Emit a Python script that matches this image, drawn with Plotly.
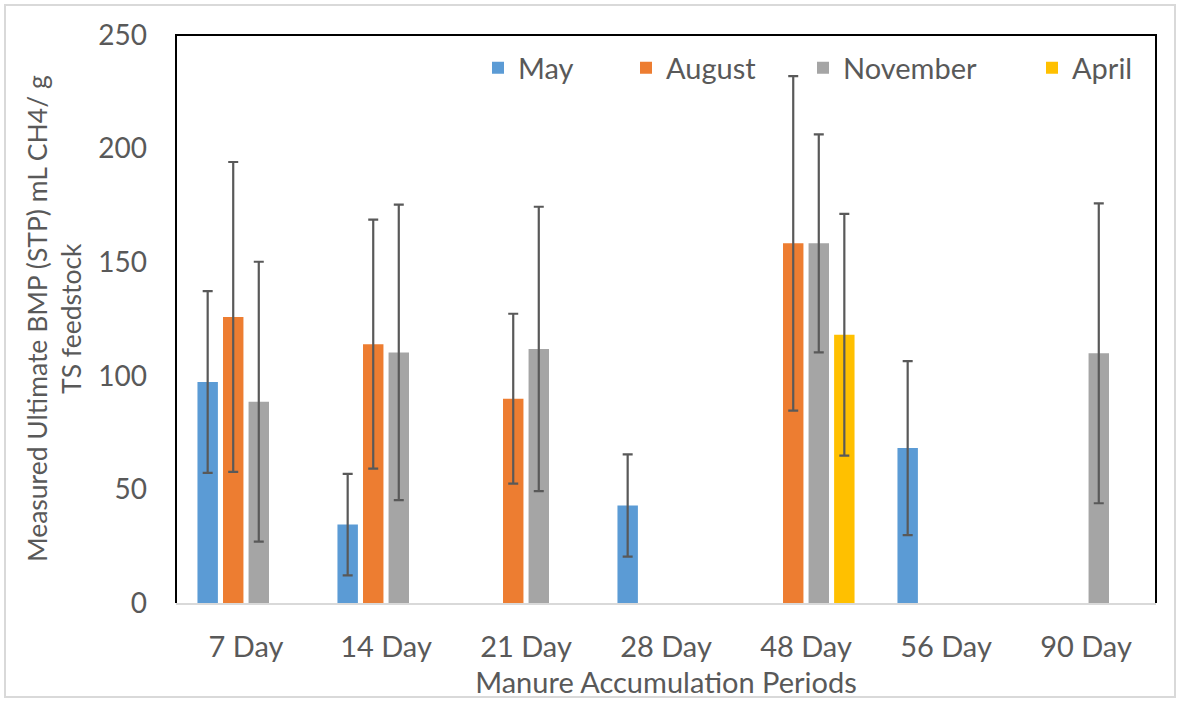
import plotly.graph_objects as go

# Manure accumulation periods (x categories)
periods = ["7 Day", "14 Day", "21 Day", "28 Day", "48 Day", "56 Day", "90 Day"]

# Measured ultimate BMP (mL CH4 / g TS) and error magnitudes per sampling month
may = [97.3, 34.5, None, 42.9, None, 68.2, None]
may_err = [40.0, 22.3, None, 22.5, None, 38.3, None]

august = [125.9, 113.9, 89.9, None, 158.3, None, None]
august_err = [68.2, 54.8, 37.4, None, 73.6, None, None]

november = [88.6, 110.3, 111.8, None, 158.3, None, 109.9]
november_err = [61.6, 65.0, 62.6, None, 48.0, None, 66.0]

april = [None, None, None, None, 118.1, None, None]
april_err = [None, None, None, None, 53.2, None, None]

series_names = ["May", "August", "November", "April"]
series_values = [may, august, november, april]
series_errors = [may_err, august_err, november_err, april_err]
series_colors = ["#5B9BD5", "#ED7D31", "#A5A5A5", "#FFC000"]

y_ticks = [0, 50, 100, 150, 200, 250]

FONT = "Lato"
TEXT_GREY = "#595959"

# plot area in pixels
W, H = 1180, 701
L, R, T, B = 176, 24, 35, 98
pw, ph = W - L - R, H - T - B


def px_x(p):
    return (p - L) / pw


def px_y(p):
    return (H - B - p) / ph


fig = go.Figure()

legend_ids = ["legend", "legend2", "legend3", "legend4"]
legend_px = [478, 626, 803, 1032]

for name, vals, errs, col, lid in zip(series_names, series_values,
                                      series_errors, series_colors, legend_ids):
    fig.add_trace(go.Bar(
        x=periods, y=vals, name=name,
        marker=dict(color=col, line=dict(width=0)),
        error_y=dict(type="data", array=errs, visible=True,
                     color="#595959", thickness=2.2, width=5),
        legend=lid,
    ))

legend_common = dict(orientation="h", yanchor="middle", xanchor="left",
                     bgcolor="rgba(0,0,0,0)",
                     font=dict(family=FONT, size=29, color=TEXT_GREY))
layout_legends = {}
for lid, lx in zip(legend_ids, legend_px):
    layout_legends[lid] = dict(x=px_x(lx), y=px_y(68), **legend_common)

fig.update_layout(
    width=W, height=H,
    margin=dict(l=L, r=R, t=T, b=B),
    paper_bgcolor="white", plot_bgcolor="white",
    barmode="group", bargap=0.27, bargroupgap=0.2,
    showlegend=True,
    font=dict(family=FONT, size=28, color=TEXT_GREY),
    xaxis=dict(
        showline=True, linecolor="#D9D9D9", linewidth=2,
        showgrid=False, ticks="", ticklabelstandoff=17, automargin=False,
        tickfont=dict(family=FONT, size=29, color=TEXT_GREY),
        title=dict(text="Manure Accumulation Periods", standoff=11,
                   font=dict(family=FONT, size=29, color=TEXT_GREY)),
    ),
    yaxis=dict(
        range=[0, 250], tickvals=y_ticks, showgrid=False, zeroline=False,
        showline=False, ticks="", ticklabelstandoff=28, automargin=False,
        tickfont=dict(family=FONT, size=28, color=TEXT_GREY),
    ),
    annotations=[dict(
        text="Measured Ultimate BMP (STP) mL CH4/ g<br>TS feedstock",
        textangle=-90, xref="paper", yref="paper",
        x=px_x(54), y=0.5, xanchor="center", yanchor="middle",
        showarrow=False, align="center",
        font=dict(family=FONT, size=26.5, color=TEXT_GREY),
    )],
    shapes=[
        # black frame on left, top and right of the plot area
        dict(type="path", xref="paper", yref="paper",
             path="M 0,0 L 0,1 L 1,1 L 1,0",
             line=dict(color="black", width=2)),
        # light outer border of the chart
        dict(type="rect", xref="paper", yref="paper",
             x0=px_x(5), x1=px_x(1175), y0=px_y(697), y1=px_y(5),
             line=dict(color="#D9D9D9", width=2)),
    ],
    **layout_legends,
)

fig.write_html("out.html")
